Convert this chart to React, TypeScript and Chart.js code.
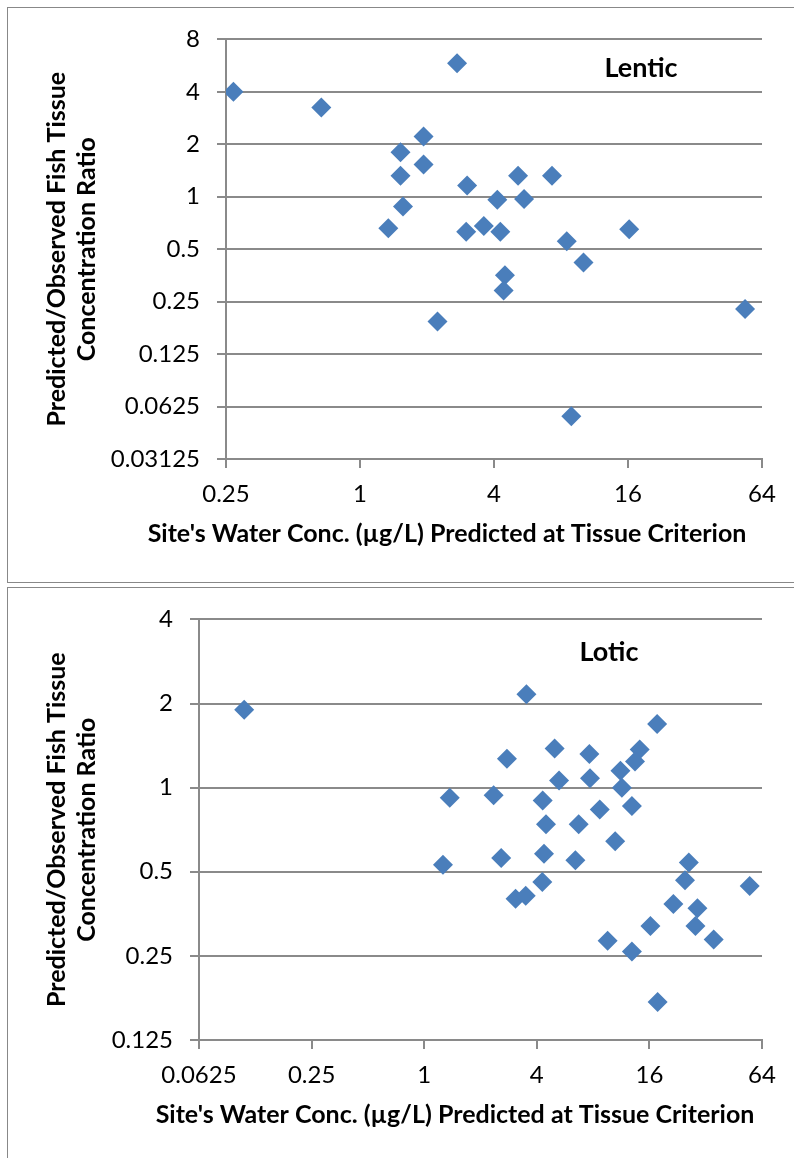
import React, { useEffect, useRef } from 'react';
import { Chart, registerables } from 'chart.js';

Chart.register(...registerables);

// ---------- Data ----------
const lenticX = [0.27, 0.67, 1.34, 2.73, 1.93, 1.52, 1.52, 1.93, 1.56, 3.03, 3.0, 3.6, 4.14, 4.27, 5.13, 5.46, 7.29, 8.49, 10.1, 16.2, 4.48, 4.42, 2.23, 53.7, 8.9];
const lenticY = [4.0, 3.25, 0.66, 5.84, 2.22, 1.8, 1.32, 1.53, 0.88, 1.16, 0.63, 0.68, 0.96, 0.63, 1.32, 0.97, 1.32, 0.556, 0.42, 0.65, 0.354, 0.29, 0.192, 0.227, 0.055];

const loticX = [0.109, 3.52, 17.6, 4.98, 7.64, 2.77, 14.2, 13.4, 11.2, 5.26, 7.7, 11.4, 1.37, 2.35, 4.3, 12.9, 8.68, 4.48, 6.7, 10.5, 1.26, 2.58, 4.37, 6.43, 26.0, 24.8, 55, 4.28, 3.08, 3.49, 21.5, 28.9, 28.2, 16.2, 35.3, 9.57, 12.9, 17.7];
const loticY = [1.9, 2.16, 1.69, 1.38, 1.32, 1.27, 1.37, 1.24, 1.15, 1.06, 1.08, 1.0, 0.92, 0.94, 0.9, 0.86, 0.835, 0.74, 0.74, 0.643, 0.53, 0.56, 0.58, 0.55, 0.54, 0.466, 0.445, 0.46, 0.4, 0.41, 0.383, 0.37, 0.32, 0.32, 0.286, 0.283, 0.259, 0.171];

const lenticXTicks = [0.25, 1, 4, 16, 64];
const lenticYTicks = [0.03125, 0.0625, 0.125, 0.25, 0.5, 1, 2, 4, 8];
const loticXTicks = [0.0625, 0.25, 1, 4, 16, 64];
const loticYTicks = [0.125, 0.25, 0.5, 1, 2, 4];

const X_TITLE = "Site's Water Conc. (µg/L) Predicted at Tissue Criterion";
const Y_TITLE = ['Predicted/Observed Fish Tissue', 'Concentration Ratio'];

// ---------- Styles ----------
const BLUE = '#4a7ebb';
const GRID = '#8a8a8a';
const FONT = 'Lato';
const TICK_SIZE = 24;
const TITLE_SIZE = 25;
const LABEL_SIZE = 27;

const panelText = {
  id: 'panelText',
  afterDraw(chart: any, _args: any, opts: any) {
    const ctx = chart.ctx;
    ctx.save();
    ctx.fillStyle = '#000';
    ctx.textAlign = 'center';
    ctx.textBaseline = 'middle';
    ctx.font = `bold ${TITLE_SIZE}px ${FONT}`;
    ctx.fillText(opts.xTitle, opts.xTitleX, opts.xTitleY);
    ctx.font = `bold ${LABEL_SIZE}px ${FONT}`;
    ctx.fillText(opts.label, opts.labelX, opts.labelY);
    ctx.restore();
  },
};

type PanelProps = {
  xs: number[];
  ys: number[];
  xTicks: number[];
  yTicks: number[];
  width: number;
  height: number;
  yAxisWidth: number;
  xAxisHeight: number;
  padTop: number;
  padRight: number;
  label: string;
  labelX: number;
  labelY: number;
  xTitleX: number;
  xTitleY: number;
};

function Panel(p: PanelProps) {
  const ref = useRef<HTMLCanvasElement | null>(null);
  useEffect(() => {
    if (!ref.current) return;
    const tickFont = { family: FONT, size: TICK_SIZE };
    const chart = new Chart(ref.current, {
      type: 'scatter',
      data: {
        datasets: [
          {
            data: p.xs.map((x, i) => ({ x, y: p.ys[i] })),
            pointStyle: 'rectRot',
            pointRadius: 10,
            pointHoverRadius: 10,
            backgroundColor: BLUE,
            borderColor: BLUE,
            borderWidth: 0,
          },
        ],
      },
      options: {
        animation: false,
        responsive: false,
        devicePixelRatio: 1,
        layout: { padding: { top: p.padTop, right: p.padRight, left: 0, bottom: 0 } },
        plugins: {
          legend: { display: false },
          tooltip: { enabled: false },
          panelText: {
            xTitle: X_TITLE,
            xTitleX: p.xTitleX,
            xTitleY: p.xTitleY,
            label: p.label,
            labelX: p.labelX,
            labelY: p.labelY,
          },
        } as any,
        scales: {
          x: {
            type: 'logarithmic',
            min: p.xTicks[0],
            max: p.xTicks[p.xTicks.length - 1],
            afterBuildTicks: (s: any) => {
              s.ticks = p.xTicks.map((v) => ({ value: v }));
            },
            afterFit: (s: any) => {
              s.height = p.xAxisHeight;
            },
            ticks: {
              callback: (v: any) => String(v),
              font: tickFont,
              color: '#000',
              padding: 12,
              autoSkip: false,
              maxRotation: 0,
            },
            grid: { drawOnChartArea: false, drawTicks: true, tickLength: 9, color: GRID, lineWidth: 2 },
            border: { color: GRID, width: 2 },
          },
          y: {
            type: 'logarithmic',
            min: p.yTicks[0],
            max: p.yTicks[p.yTicks.length - 1],
            afterBuildTicks: (s: any) => {
              s.ticks = p.yTicks.map((v) => ({ value: v }));
            },
            afterFit: (s: any) => {
              s.width = p.yAxisWidth;
            },
            ticks: {
              callback: (v: any) => String(v),
              font: tickFont,
              color: '#000',
              padding: 17,
              autoSkip: false,
            },
            grid: { color: GRID, lineWidth: 2, tickLength: 9 },
            border: { color: GRID, width: 2 },
            title: {
              display: true,
              text: Y_TITLE,
              color: '#000',
              font: { family: FONT, size: TITLE_SIZE, weight: 'bold', lineHeight: 1.2 },
              padding: { top: 34, bottom: 0 },
            },
          },
        },
      } as any,
      plugins: [panelText],
    });
    return () => chart.destroy();
  }, []);
  return <canvas ref={ref} width={p.width} height={p.height} style={{ width: p.width, height: p.height, display: 'block' }} />;
}

export default function App() {
  const boxBorder = '1px solid #888';
  return (
    <div style={{ position: 'fixed', left: 0, top: 0, width: 794, height: 1158, overflow: 'hidden', background: '#fff' }}>
      <div
        style={{
          position: 'absolute', left: 7, top: 7, width: 800, height: 576, boxSizing: 'border-box',
          borderLeft: boxBorder, borderTop: boxBorder, borderBottom: boxBorder,
        }}
      />
      <div
        style={{
          position: 'absolute', left: 7, top: 587, width: 800, height: 600, boxSizing: 'border-box',
          borderLeft: boxBorder, borderTop: boxBorder,
        }}
      />
      <div style={{ position: 'absolute', left: 8, top: 8 }}>
        <Panel
          xs={lenticX}
          ys={lenticY}
          xTicks={lenticXTicks}
          yTicks={lenticYTicks}
          width={786}
          height={573}
          yAxisWidth={218}
          xAxisHeight={122}
          padTop={29}
          padRight={32}
          label="Lentic"
          labelX={633}
          labelY={60}
          xTitleX={439}
          xTitleY={526}
        />
      </div>
      <div style={{ position: 'absolute', left: 8, top: 588 }}>
        <Panel
          xs={loticX}
          ys={loticY}
          xTicks={loticXTicks}
          yTicks={loticYTicks}
          width={786}
          height={570}
          yAxisWidth={191}
          xAxisHeight={118}
          padTop={29}
          padRight={32}
          label="Lotic"
          labelX={601}
          labelY={64}
          xTitleX={447}
          xTitleY={527}
        />
      </div>
    </div>
  );
}
